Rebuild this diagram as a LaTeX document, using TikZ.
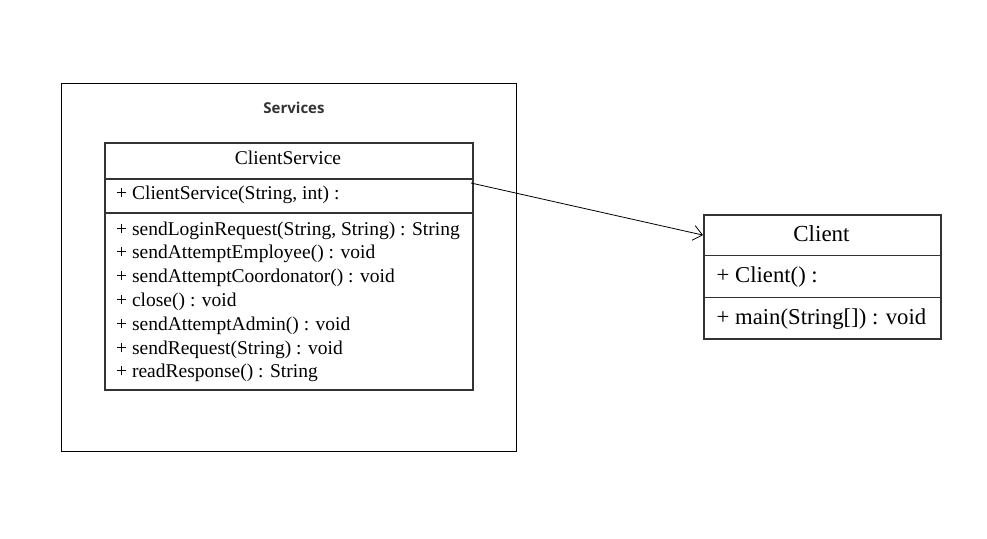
\documentclass[tikz,border=0pt]{standalone}
\usepackage{fontspec}
\setmainfont{Liberation Serif}
\newfontfamily\labelfont{Open Sans}
\usetikzlibrary{arrows.meta}
\definecolor{boxgray}{HTML}{333333}
\tikzset{
  x=1pt, y=-1pt,
  compart/.style={draw=boxgray, line width=1.7pt, anchor=north west, inner sep=0pt, minimum width=#1},
  memb/.style={anchor=base west, inner sep=0pt, font=\fontsize{19.5}{22}\selectfont},
  cmemb/.style={anchor=base west, inner sep=0pt, font=\fontsize{22.7}{26}\selectfont},
  pkg/.style={draw=black, line width=0.9pt, anchor=north west, inner sep=0pt},
  dep/.style={line width=0.8pt, -{Straight Barb[length=9pt,width=15pt,line width=0.8pt]}}
}
\begin{document}
\begin{tikzpicture}
\useasboundingbox (0,0) rectangle (987,538);
% package
\node[pkg, minimum width=455pt, minimum height=368pt] (pkg) at (61,83) {};
\node[font=\labelfont\bfseries\fontsize{15}{17}\selectfont, text=boxgray, anchor=base, inner sep=0pt] (pkglabel) at (294,113.3) {Services};
% ClientService
\node[compart=368pt, minimum height=36pt] (cst) at (104,142) {};
\node[compart=368pt, minimum height=34pt] (csa) at (104,178) {};
\node[compart=368pt, minimum height=177pt] (csm) at (104,212) {};
\node[font=\fontsize{19.5}{22}\selectfont, inner sep=0pt, anchor=base] (cstitle) at (288,164.3) {ClientService};
\node[memb] (csc) at (116,199) {+ ClientService(String, int) :};
\node[memb] (m1) at (116,235) {+ sendLoginRequest(String, String) : String};
\node[memb] (m2) at (116,258.8) {+ sendAttemptEmployee() : void};
\node[memb] (m3) at (116,282.6) {+ sendAttemptCoordonator() : void};
\node[memb] (m4) at (116,306.4) {+ close() : void};
\node[memb] (m5) at (116,330.2) {+ sendAttemptAdmin() : void};
\node[memb] (m6) at (116,354) {+ sendRequest(String) : void};
\node[memb] (m7) at (116,377.8) {+ readResponse() : String};
% Client
\node[compart=237pt, minimum height=40.5pt] (clt) at (703,214) {};
\node[compart=237pt, minimum height=42.2pt] (cla) at (703,254.5) {};
\node[compart=237pt, minimum height=41.3pt] (clm) at (703,296.7) {};
\node[font=\fontsize{23}{26}\selectfont, inner sep=0pt, anchor=base] (cltitle) at (821.5,241) {Client};
\node[cmemb] (clc) at (716.5,282.3) {+ Client() :};
\node[cmemb] (clmain) at (716.5,324) {+ main(String[]) : void};
% dependency
\coordinate (start) at (471,183);
\draw[dep] (start) -- (clt.west);
\end{tikzpicture}
\end{document}
